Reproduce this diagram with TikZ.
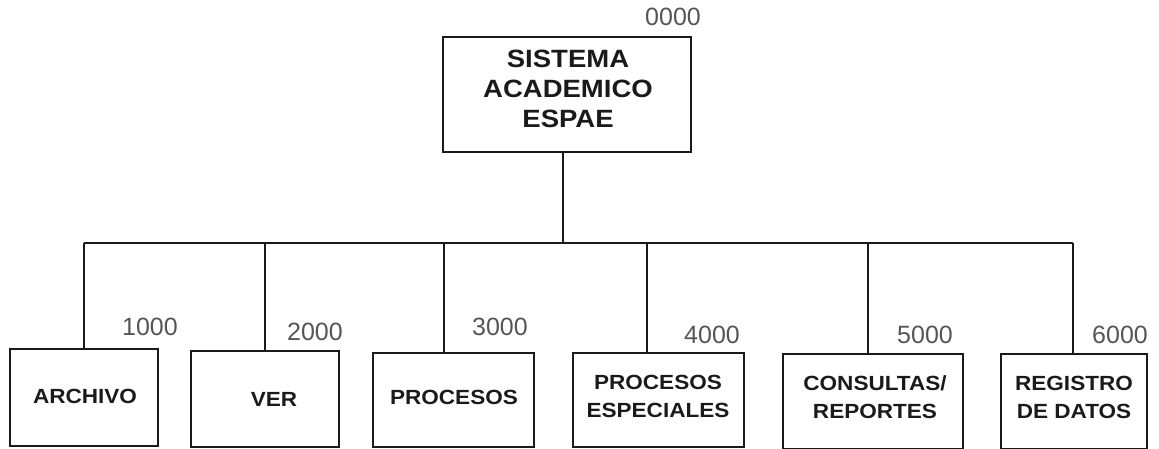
\documentclass[tikz,border=0pt]{standalone}
\usepackage{fontspec}
\setmainfont{Liberation Sans}
\newfontfamily\widefont[FakeStretch=1.1]{Liberation Sans}
\definecolor{numgray}{HTML}{555555}
\definecolor{ink}{HTML}{1A1A1A}
\begin{document}
\begin{tikzpicture}[x=1pt,y=-1pt,
  box/.style={draw=ink,line width=1.3pt,inner sep=0pt},
  txt/.style={align=center,inner sep=0pt,text=ink,font=\widefont\bfseries\fontsize{20.5}{28}\selectfont},
  num/.style={text=numgray,font=\fontsize{25}{25}\selectfont,inner sep=0pt},
  conn/.style={draw=ink,line width=1.3pt}]
\useasboundingbox (0,0) rectangle (1159,449);
\node[box,minimum width=248pt,minimum height=115pt] (top) at (567,94.5) {};
\node[txt,font=\widefont\bfseries\fontsize{25}{30}\selectfont] (t0) at (568,89) {SISTEMA\\ACADEMICO\\ESPAE};
\node[num] (l0) at (673,17) {0000};
\node[box,minimum width=148pt,minimum height=97pt] (n1) at (84,397.5) {};
\node[box,minimum width=148pt,minimum height=96pt] (n2) at (265,399) {};
\node[box,minimum width=161pt,minimum height=94pt] (n3) at (453.5,400) {};
\node[box,minimum width=171pt,minimum height=94pt] (n4) at (658.5,400) {};
\node[box,minimum width=180pt,minimum height=95pt] (n5) at (873,401.5) {};
\node[box,minimum width=146pt,minimum height=95pt] (n6) at (1074,401.5) {};
\node[txt] (t1) at (85,396.5) {ARCHIVO};
\node[txt] (t2) at (274,399.5) {VER};
\node[txt] (t3) at (454,397) {PROCESOS};
\node[txt] (t4) at (658,396.5) {PROCESOS\\ESPECIALES};
\node[txt] (t5) at (875,397) {CONSULTAS/\\REPORTES};
\node[txt] (t6) at (1074,397) {REGISTRO\\DE DATOS};
\node[num] (l1) at (150,327) {1000};
\node[num] (l2) at (315,332) {2000};
\node[num] (l3) at (500,327) {3000};
\node[num] (l4) at (712,335) {4000};
\node[num] (l5) at (925,335) {5000};
\node[num] (l6) at (1120,335) {6000};
\coordinate (hub) at (563,243);
\coordinate (b1) at (84,243);
\coordinate (b2) at (265,243);
\coordinate (b3) at (444,243);
\coordinate (b4) at (647,243);
\coordinate (b5) at (868,243);
\coordinate (b6) at (1073,243);
\draw[conn] (top.south -| hub) -- (hub);
\draw[conn] (b1) -- (b6);
\draw[conn] (b1) -- (b1 |- n1.north);
\draw[conn] (b2) -- (b2 |- n2.north);
\draw[conn] (b3) -- (b3 |- n3.north);
\draw[conn] (b4) -- (b4 |- n4.north);
\draw[conn] (b5) -- (b5 |- n5.north);
\draw[conn] (b6) -- (b6 |- n6.north);
\end{tikzpicture}
\end{document}
